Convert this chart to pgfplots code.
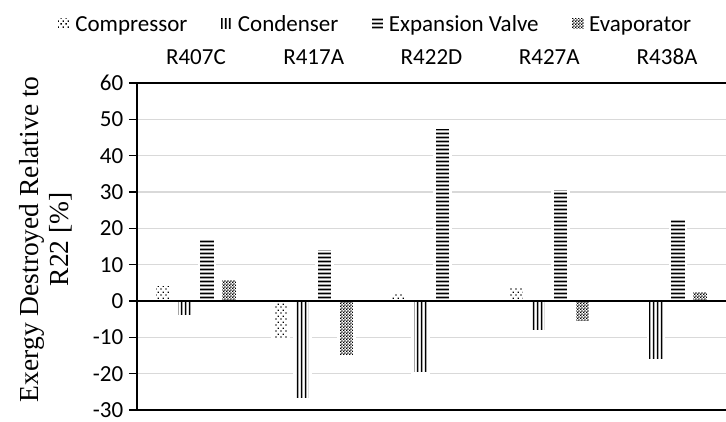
\documentclass[border=0pt]{standalone}
\usepackage{fontspec}
\setmainfont{Carlito}
\newfontfamily\tnr{Liberation Serif}
\usepackage{pgfplots}
\pgfplotsset{compat=1.18}
\usetikzlibrary{patterns}
\definecolor{gridgray}{RGB}{217,217,217}
% patterns (large tiles to avoid seams)
\pgfdeclarepatternformonly{vlinesC}{\pgfqpoint{0pt}{0pt}}{\pgfqpoint{4pt}{120pt}}{\pgfqpoint{4pt}{120pt}}{%
  \pgfpathrectangle{\pgfqpoint{1pt}{0pt}}{\pgfqpoint{2pt}{120pt}}\pgfusepath{fill}}
\pgfdeclarepatternformonly{hlinesC}{\pgfqpoint{0pt}{0pt}}{\pgfqpoint{120pt}{3.5pt}}{\pgfqpoint{120pt}{3.5pt}}{%
  \pgfpathrectangle{\pgfqpoint{0pt}{0.75pt}}{\pgfqpoint{120pt}{2pt}}\pgfusepath{fill}}
\pgfdeclarepatternformonly{checkC}{\pgfqpoint{0pt}{0pt}}{\pgfqpoint{3.2pt}{3.2pt}}{\pgfqpoint{3.2pt}{3.2pt}}{%
  \pgfpathrectangle{\pgfqpoint{0pt}{0pt}}{\pgfqpoint{1.6pt}{1.6pt}}%
  \pgfpathrectangle{\pgfqpoint{1.6pt}{1.6pt}}{\pgfqpoint{1.6pt}{1.6pt}}\pgfusepath{fill}}
\pgfdeclarepatternformonly{dotsC}{\pgfqpoint{0pt}{0pt}}{\pgfqpoint{5pt}{6pt}}{\pgfqpoint{5pt}{6pt}}{%
  \pgfpathrectangle{\pgfqpoint{0.5pt}{0.5pt}}{\pgfqpoint{1.5pt}{1.5pt}}%
  \pgfpathrectangle{\pgfqpoint{3pt}{3.5pt}}{\pgfqpoint{1.5pt}{1.5pt}}\pgfusepath{fill}}

\pgfplotstableread{
x comp cond exp evap
0 4.5  -4.1  17.0  6.2
1 -10.8 -27.0 14.3 -15.2
2 2.5  -20.0 47.8  nan
3 4.3  -8.4  31.0  -5.8
4 nan  -16.2 23.0  2.8
}\datatable

\begin{document}
\begin{tikzpicture}
\path[use as bounding box] (-137pt,-11pt) rectangle (589pt,410pt);
\begin{axis}[
  at={(0,0)}, anchor=south west,
  scale only axis, width=589pt, height=327pt,
  ybar=6pt, bar width=16pt,
  ymin=-30, ymax=60, ytick={-30,-20,...,60},
  xmin=-0.5, xmax=4.5,
  xtick={0,1,2,3,4},
  xticklabels={R407C,R417A,R422D,R427A,R438A},
  xticklabel pos=upper,
  xticklabel style={anchor=base, yshift=11pt},
  x tick style={draw=none},
  axis x line=box,
  axis y line*=left,
  axis line style={black, line width=1.2pt},
  y tick style={black, line width=1.2pt},
  tick align=outside,
  major tick length=8pt,
  ymajorgrids, grid style={gridgray, line width=1.2pt},
  ticklabel style={font=\fontsize{23}{26}\selectfont},
  yticklabel style={inner sep=0.5pt, xshift=-5pt},
  /pgf/number format/assume math mode=true,
  ylabel={Exergy Destroyed Relative to\\R22 [\%]},
  ylabel style={at={(axis description cs:-0.155,0.522)}, anchor=center, align=center,
    font=\fontsize{27.5}{29.5}\tnr},
  legend columns=4,
  legend style={at={(axis description cs:0.404,1.179)}, anchor=center, draw=none, fill=none,
    font=\fontsize{23}{26}\selectfont,
    nodes={inner sep=3pt},
    /tikz/every even column/.append style={column sep=28pt}},
  legend cell align=left,
  myleg/.style={legend image code/.code={\path[##1,draw=none] (0pt,-6pt) rectangle (14pt,8pt);}},
]
\addplot[fill=white, draw=white, line width=2.5pt, postaction={pattern=dotsC}, myleg] table[x=x,y=comp]{\datatable};
\addlegendentry{Compressor}
\addplot[fill=white, draw=white, line width=2.5pt, postaction={pattern=vlinesC}, myleg] table[x=x,y=cond]{\datatable};
\addlegendentry{Condenser}
\addplot[fill=white, draw=white, line width=2.5pt, postaction={pattern=hlinesC}, myleg] table[x=x,y=exp]{\datatable};
\addlegendentry{Expansion Valve}
\addplot[fill=white, draw=white, line width=2.5pt, postaction={pattern=checkC}, myleg] table[x=x,y=evap]{\datatable};
\addlegendentry{Evaporator}
\draw[black, line width=1.2pt] (axis cs:-0.5,0) -- (axis cs:4.5,0);
\end{axis}
\end{tikzpicture}
\end{document}
